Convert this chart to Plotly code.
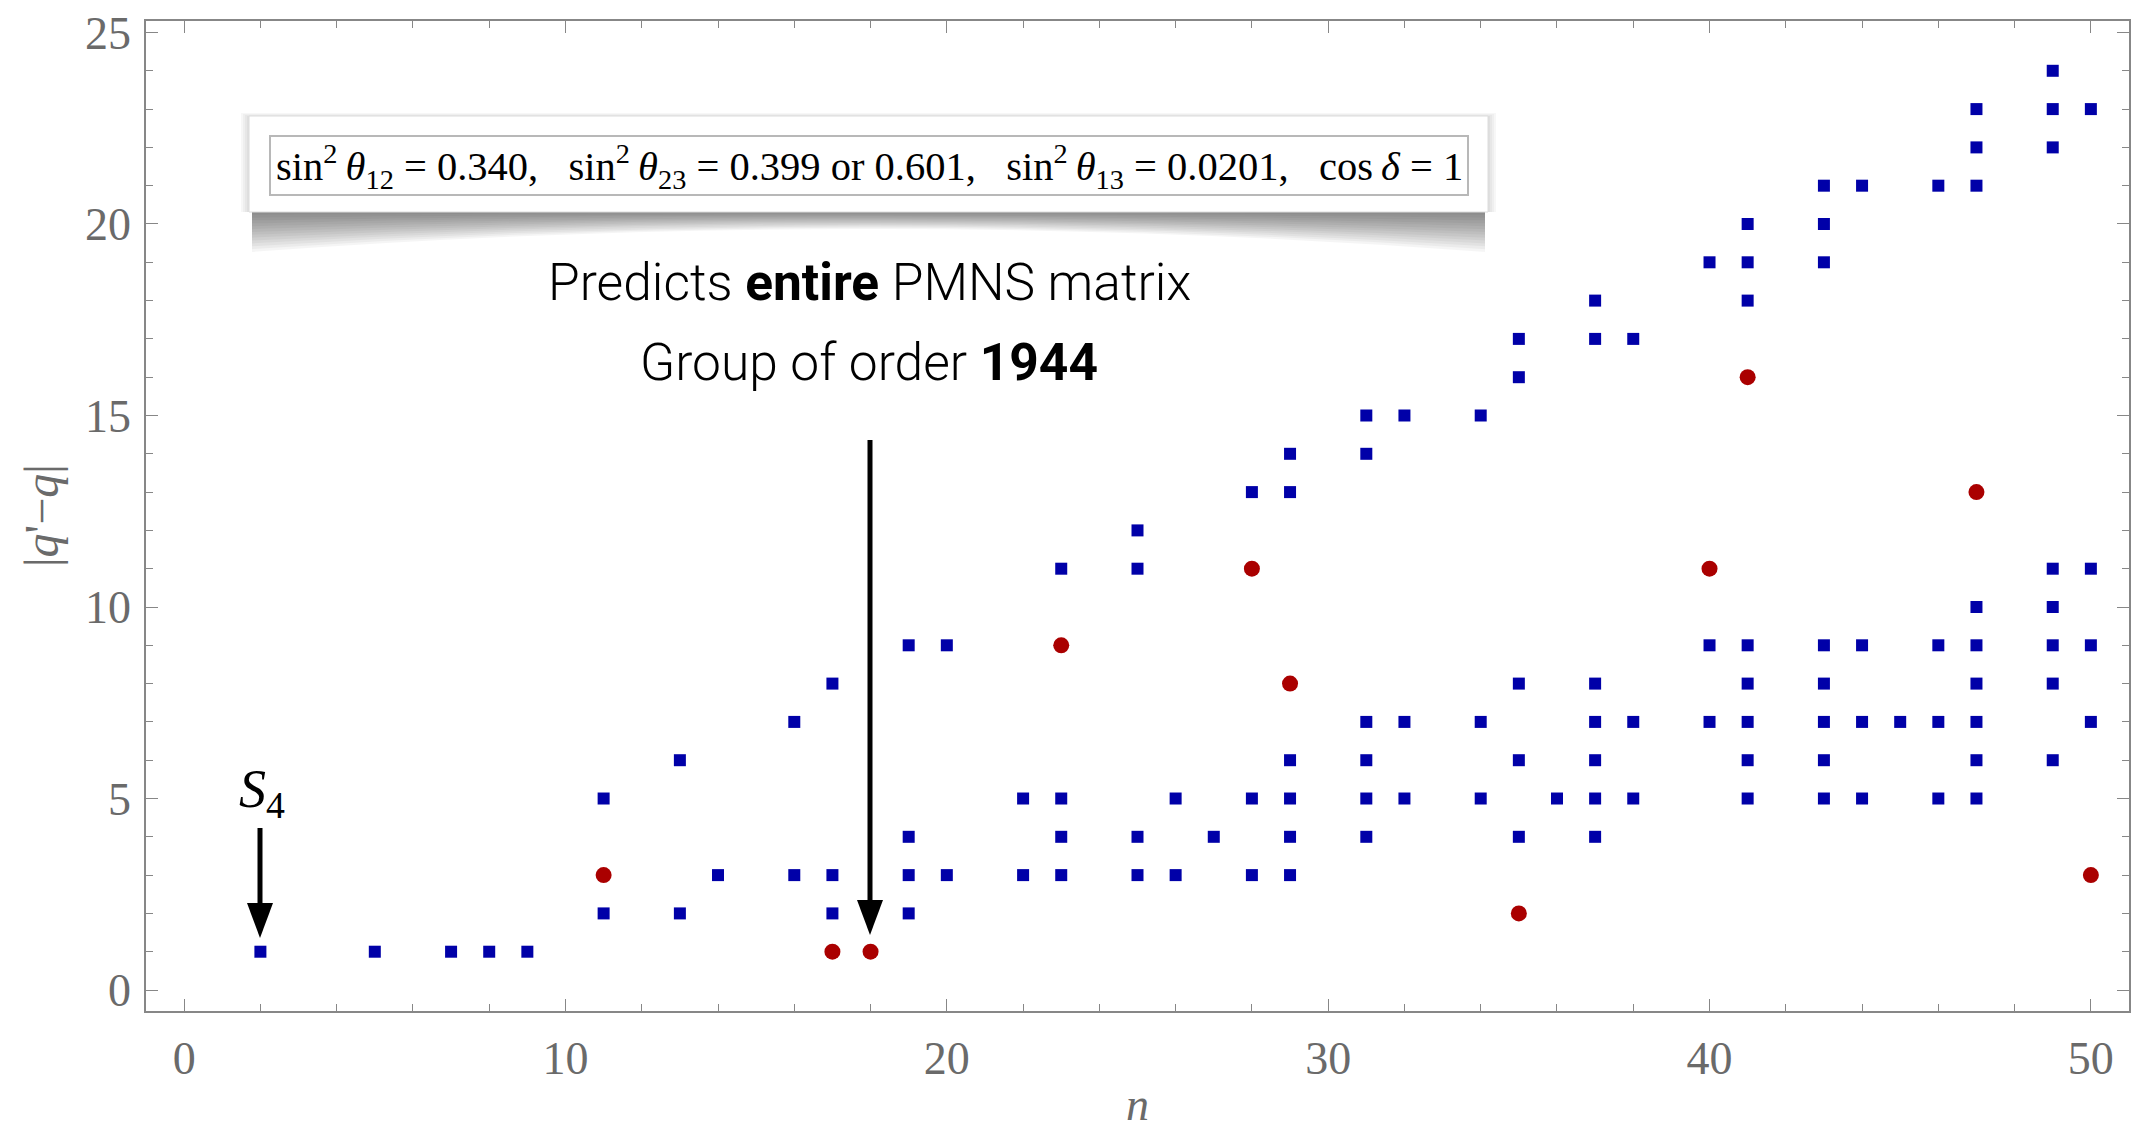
import plotly.graph_objects as go

# ---------------- data ----------------
blue_n = [2, 5, 7, 8, 9,
          11, 11, 13, 13, 14, 16, 16, 17, 17, 17,
          19, 19, 19, 19, 20, 20, 22, 22,
          23, 23, 23, 23, 25, 25, 25, 25, 26, 26, 27,
          28, 28, 28, 29, 29, 29, 29, 29, 29,
          31, 31, 31, 31, 31, 31, 32, 32, 32, 34, 34, 34,
          35, 35, 35, 35, 35, 36,
          37, 37, 37, 37, 37, 37, 37, 38, 38, 38,
          40, 40, 40, 41, 41, 41, 41, 41, 41, 41, 41,
          43, 43, 43, 43, 43, 43, 43, 43, 44, 44, 44, 44, 45,
          46, 46, 46, 46, 47, 47, 47, 47, 47, 47, 47, 47, 47,
          49, 49, 49, 49, 49, 49, 49, 49, 50, 50, 50, 50]
blue_q = [1, 1, 1, 1, 1,
          2, 5, 2, 6, 3, 3, 7, 2, 3, 8,
          2, 3, 4, 9, 3, 9, 3, 5,
          3, 4, 5, 11, 3, 4, 11, 12, 3, 5, 4,
          3, 5, 13, 3, 4, 5, 6, 13, 14,
          4, 5, 6, 7, 14, 15, 5, 7, 15, 5, 7, 15,
          4, 6, 8, 16, 17, 5,
          4, 5, 6, 7, 8, 17, 18, 5, 7, 17,
          7, 9, 19, 5, 6, 7, 8, 9, 18, 19, 20,
          5, 6, 7, 8, 9, 19, 20, 21, 5, 7, 9, 21, 7,
          5, 7, 9, 21, 5, 6, 7, 8, 9, 10, 21, 22, 23,
          6, 8, 9, 10, 11, 22, 23, 24, 7, 9, 11, 23]
assert len(blue_n) == len(blue_q)

red_n = [11, 17, 18, 23, 28, 29, 35, 40, 41, 47, 50]
red_q = [3, 1, 1, 9, 11, 8, 2, 11, 16, 13, 3]

x_ticks = [0, 10, 20, 30, 40, 50]
y_ticks = [0, 5, 10, 15, 20, 25]

formula_text = ("sin<sup>2</sup>\u2009<i>θ</i><sub>12</sub> = 0.340,\u00a0\u00a0\u00a0"
                "sin<sup>2</sup>\u2009<i>θ</i><sub>23</sub> = 0.399 or 0.601,\u00a0\u00a0\u00a0"
                "sin<sup>2</sup>\u2009<i>θ</i><sub>13</sub> = 0.0201,\u00a0\u00a0\u00a0"
                "cos\u2009<i>δ</i> = 1")
line1_text = "Predicts <b>entire</b> PMNS matrix"
line2_text = "Group of order <b>1944</b>"
s4_text = "<i>S</i><sub>4</sub>"
x_title = "<i>n</i>"
y_title = "|<i>q</i>'\u2212<i>q</i>|"

# ---------------- layout geometry (pixels) ----------------
W, H = 2135, 1132
L, R, T, B = 146, 2129, 21, 1011


def px(X):
    return (X - L) / (R - L)


def py(Y):
    return (B - Y) / (B - T)


GRAY = "#878787"
LABEL_GRAY = "#6a6a6a"
SERIF = "Liberation Serif"

fig = go.Figure()
fig.add_trace(go.Scatter(x=blue_n, y=blue_q, mode="markers",
                         marker=dict(symbol="square", size=12, color="rgb(0,0,168)"),
                         showlegend=False, hoverinfo="skip"))
fig.add_trace(go.Scatter(x=red_n, y=red_q, mode="markers",
                         marker=dict(symbol="circle", size=16, color="rgb(170,0,0)"),
                         showlegend=False, hoverinfo="skip"))

axis_common = dict(ticks="inside", ticklen=12, tickwidth=1.3, tickcolor=GRAY,
                   showline=True, linecolor=GRAY, linewidth=1.6, mirror="ticks",
                   showgrid=False, zeroline=False, automargin=False,
                   tickfont=dict(family=SERIF, size=46, color=LABEL_GRAY))

fig.update_xaxes(range=[-1, 51], tickvals=x_ticks, ticktext=[str(v) for v in x_ticks],
                 minor=dict(dtick=2, tick0=0, ticks="inside", ticklen=7, tickwidth=1.1,
                            tickcolor=GRAY, showgrid=False),
                 ticklabelstandoff=6, **axis_common)
fig.update_yaxes(range=[-0.548, 25.3], tickvals=y_ticks, ticktext=[str(v) for v in y_ticks],
                 minor=dict(dtick=1, tick0=0, ticks="inside", ticklen=7, tickwidth=1.1,
                            tickcolor=GRAY, showgrid=False),
                 ticklabelstandoff=4, **axis_common)

shapes = []
# --- formula panel with curled shadow ---
X0, X1, Y0, Y1 = 249, 1488, 116, 212
Xm = (X0 + X1) / 2
N = 14
for k in range(N):
    f = (k + 1) / N
    d_end = 40 * f
    d_mid = 17 * f
    ctrl = 2 * d_mid - d_end
    path = (f"M {px(X0 + 3)} {py(Y1 - 2)} L {px(X1 - 3)} {py(Y1 - 2)} "
            f"L {px(X1 - 3)} {py(Y1 + d_end)} "
            f"Q {px(Xm)} {py(Y1 + ctrl)} {px(X0 + 3)} {py(Y1 + d_end)} Z")
    shapes.append(dict(type="path", path=path, xref="paper", yref="paper",
                       fillcolor="black", opacity=0.04, line=dict(width=0), layer="above"))
for k in range(4):
    e = 2 + 2 * k
    shapes.append(dict(type="rect", xref="paper", yref="paper",
                       x0=px(X0 - e), x1=px(X1 + e), y0=py(Y1), y1=py(Y0 - k),
                       fillcolor="black", opacity=0.03, line=dict(width=0), layer="above"))
shapes.append(dict(type="rect", xref="paper", yref="paper",
                   x0=px(X0), x1=px(X1), y0=py(Y1), y1=py(Y0),
                   fillcolor="white", line=dict(color="#dcdcdc", width=1), layer="above"))
shapes.append(dict(type="rect", xref="paper", yref="paper",
                   x0=px(270), x1=px(1468), y0=py(195), y1=py(136),
                   fillcolor="white", line=dict(color="#b8b8b8", width=2), layer="above"))


# --- arrows ---
def arrow(Xc, Ytop, Ytip, head_len=35, head_w=26, lw=5):
    base = Ytip - head_len
    return [dict(type="line", xref="paper", yref="paper",
                 x0=px(Xc), x1=px(Xc), y0=py(Ytop), y1=py(base + 4),
                 line=dict(color="black", width=lw), layer="above"),
            dict(type="path", xref="paper", yref="paper",
                 path=(f"M {px(Xc - head_w / 2)} {py(base)} L {px(Xc + head_w / 2)} {py(base)} "
                       f"L {px(Xc)} {py(Ytip)} Z"),
                 fillcolor="black", line=dict(width=0), layer="above")]


shapes += arrow(870, 440, 935)
shapes += arrow(260, 828, 938)

fig.update_layout(shapes=shapes)

annotations = [
    dict(text=formula_text, x=px(869), y=py(166), xref="paper", yref="paper",
         showarrow=False, xanchor="center", yanchor="middle",
         font=dict(family=SERIF, size=40.5, color="black")),
    dict(text=line1_text, x=px(869), y=py(282), xref="paper", yref="paper",
         showarrow=False, xanchor="center", yanchor="middle",
         font=dict(family="Roboto", size=51.5, color="black", weight=300)),
    dict(text=line2_text, x=px(869), y=py(362), xref="paper", yref="paper",
         showarrow=False, xanchor="center", yanchor="middle",
         font=dict(family="Roboto", size=51.5, color="black", weight=300)),
    dict(text=s4_text, x=px(262), y=py(792), xref="paper", yref="paper",
         showarrow=False, xanchor="center", yanchor="middle",
         font=dict(family=SERIF, size=54, color="black")),
    dict(text=x_title, x=px(1137), y=py(1104), xref="paper", yref="paper",
         showarrow=False, xanchor="center", yanchor="middle",
         font=dict(family=SERIF, size=46, color=LABEL_GRAY)),
    dict(text=y_title, x=px(41), y=py(516), xref="paper", yref="paper",
         showarrow=False, xanchor="center", yanchor="middle", textangle=-90,
         font=dict(family=SERIF, size=48, color=LABEL_GRAY)),
]
fig.update_layout(annotations=annotations)

fig.update_layout(width=W, height=H, autosize=False,
                  margin=dict(l=L, r=W - R, t=T, b=H - B, pad=0),
                  plot_bgcolor="white", paper_bgcolor="white", showlegend=False)

fig.write_html("out.html")
